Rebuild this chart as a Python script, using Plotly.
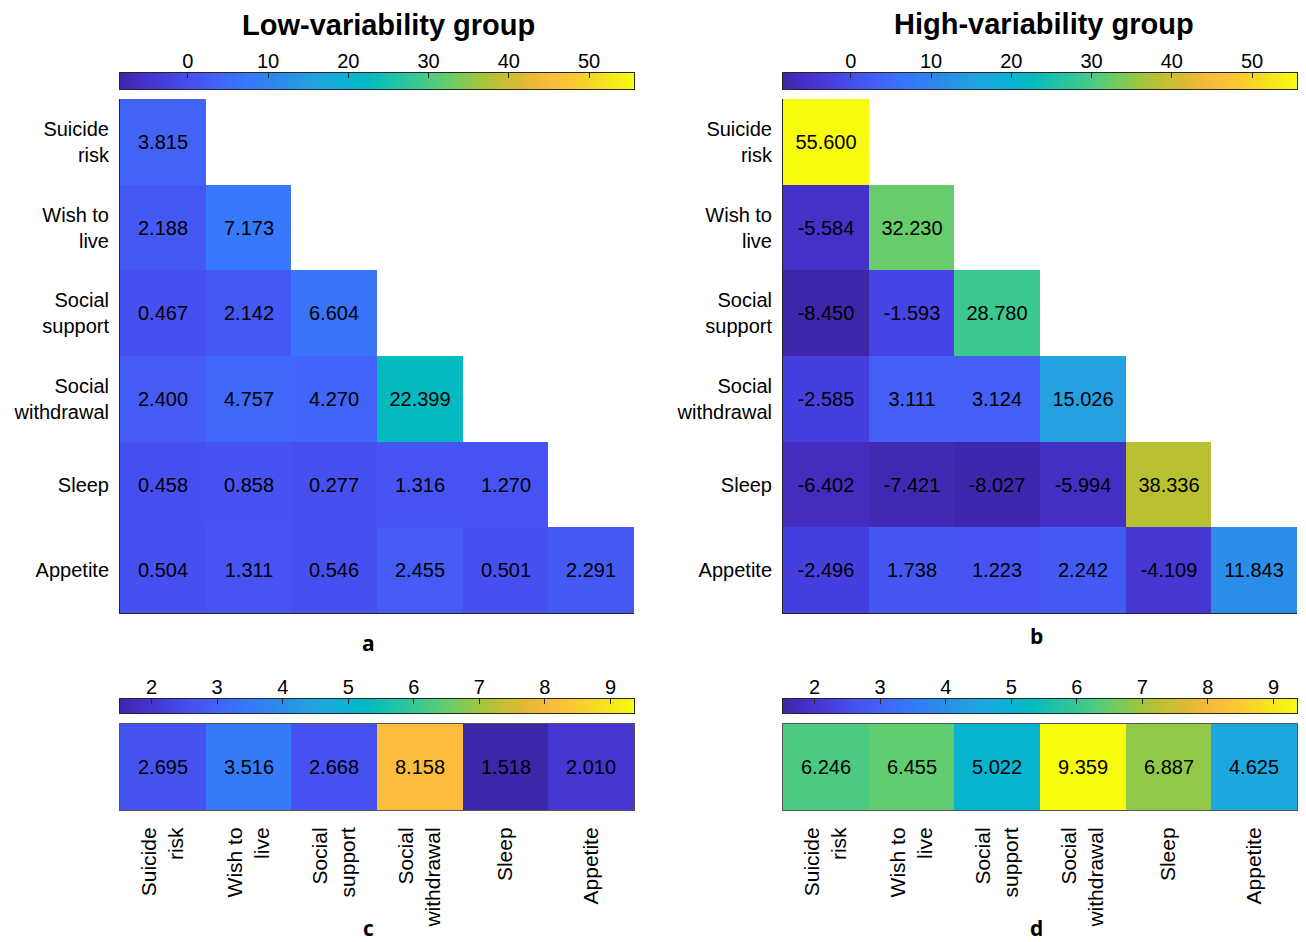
import numpy as np
import plotly.graph_objects as go

# Row/column variables (lower-triangular layout)
tick_text = ["Suicide<br>risk", "Wish to<br>live", "Social<br>support",
             "Social<br>withdrawal", "Sleep", "Appetite"]

# Lower-triangular matrices, row by row
low_var = [
    [3.815],
    [2.188, 7.173],
    [0.467, 2.142, 6.604],
    [2.400, 4.757, 4.270, 22.399],
    [0.458, 0.858, 0.277, 1.316, 1.270],
    [0.504, 1.311, 0.546, 2.455, 0.501, 2.291],
]
high_var = [
    [55.600],
    [-5.584, 32.230],
    [-8.450, -1.593, 28.780],
    [-2.585, 3.111, 3.124, 15.026],
    [-6.402, -7.421, -8.027, -5.994, 38.336],
    [-2.496, 1.738, 1.223, 2.242, -4.109, 11.843],
]

# Single-row values
low_row = [2.695, 3.516, 2.668, 8.158, 1.518, 2.010]
high_row = [6.246, 6.455, 5.022, 9.359, 6.887, 4.625]

top_ticks = [0, 10, 20, 30, 40, 50]
bottom_ticks = [2, 3, 4, 5, 6, 7, 8, 9]

# Parula-style colour map
parula = [
    [0.000, "rgb(62,38,168)"],
    [0.045, "rgb(69,48,200)"],
    [0.090, "rgb(70,62,222)"],
    [0.140, "rgb(70,80,240)"],
    [0.190, "rgb(67,98,247)"],
    [0.245, "rgb(55,120,252)"],
    [0.317, "rgb(42,142,232)"],
    [0.366, "rgb(37,160,225)"],
    [0.400, "rgb(26,169,222)"],
    [0.447, "rgb(6,180,208)"],
    [0.482, "rgb(3,186,192)"],
    [0.581, "rgb(60,200,145)"],
    [0.633, "rgb(100,204,110)"],
    [0.685, "rgb(145,200,72)"],
    [0.730, "rgb(185,192,50)"],
    [0.790, "rgb(228,186,52)"],
    [0.847, "rgb(252,188,60)"],
    [0.920, "rgb(245,215,40)"],
    [1.000, "rgb(249,251,14)"],
]

FONT = "Liberation Sans, Arial, sans-serif"
AX = "#262626"
W, H = 1306, 942


def fx(px):
    return px / W


def fy(py):
    return 1 - py / H


def full(rows):
    n = len(rows)
    z = [[(r[j] if j < len(r) else None) for j in range(n)] for r in rows]
    t = [[(f"{v:.3f}" if v is not None else "") for v in r] for r in z]
    return z, t


top_min = min(min(r) for r in low_var + high_var)
top_max = max(max(r) for r in low_var + high_var)
bot_min = min(low_row + high_row)
bot_max = max(low_row + high_row)

fig = go.Figure()

# Triangular heatmaps
for k, rows in enumerate([low_var, high_var], start=1):
    z, t = full(rows)
    sfx = "" if k == 1 else str(k)
    fig.add_trace(go.Heatmap(
        z=z, x=list(range(6)), y=list(range(6)), text=t,
        texttemplate="%{text}", textfont=dict(size=20, color="black", family=FONT),
        colorscale=parula, zmin=top_min, zmax=top_max, showscale=False,
        xaxis="x" + sfx, yaxis="y" + sfx, hoverinfo="skip"))

# Single-row heatmaps
for k, vals in zip([3, 4], [low_row, high_row]):
    fig.add_trace(go.Heatmap(
        z=[vals], x=list(range(6)), y=[0], text=[[f"{v:.3f}" for v in vals]],
        texttemplate="%{text}", textfont=dict(size=20, color="black", family=FONT),
        colorscale=parula, zmin=bot_min, zmax=bot_max, showscale=False,
        xaxis=f"x{k}", yaxis=f"y{k}", hoverinfo="skip"))

# Colour bars drawn as gradient strips on their own axes
N = 256
for k, (lo, hi) in zip([5, 6, 7, 8], [(top_min, top_max), (top_min, top_max),
                                      (bot_min, bot_max), (bot_min, bot_max)]):
    edges = np.linspace(lo, hi, N + 1)
    mids = (edges[:-1] + edges[1:]) / 2
    fig.add_trace(go.Heatmap(
        z=[mids], x=edges, y=[0, 1], colorscale=parula, zmin=lo, zmax=hi,
        showscale=False, xaxis=f"x{k}", yaxis=f"y{k}", hoverinfo="skip"))

xl = [fx(120), fx(634)]
xr = [fx(783), fx(1297)]
y_top = [fy(613), fy(99)]
y_cb_top = [fy(89), fy(73)]
y_cb_bot = [fy(713), fy(699)]
y_row = [fy(810), fy(724)]

tick_font = dict(size=20, color="black", family=FONT)

layout = dict(
    width=W, height=H, margin=dict(l=0, r=0, t=0, b=0),
    paper_bgcolor="white", plot_bgcolor="white", showlegend=False,
)

for k, dom in [(1, xl), (2, xr)]:
    sfx = "" if k == 1 else str(k)
    layout["xaxis" + sfx] = dict(domain=dom, anchor="y" + sfx, range=[-0.5, 5.5],
                                 showticklabels=False, ticks="", showgrid=False,
                                 zeroline=False, showline=True, linecolor=AX, linewidth=1)
    layout["yaxis" + sfx] = dict(domain=y_top, anchor="x" + sfx, range=[5.5, -0.5],
                                 tickvals=list(range(6)), ticktext=tick_text,
                                 tickfont=tick_font, ticks="", ticklabelstandoff=6,
                                 showgrid=False, zeroline=False, showline=True,
                                 linecolor=AX, linewidth=1)

for k, dom in [(3, xl), (4, xr)]:
    layout[f"xaxis{k}"] = dict(domain=dom, anchor=f"y{k}", range=[-0.5, 5.5],
                               tickvals=list(range(6)), ticktext=tick_text,
                               tickangle=-90, tickfont=dict(size=21, color="black", family=FONT),
                               ticks="", ticklabelstandoff=8, showgrid=False, zeroline=False,
                               showline=True, mirror=True, linecolor="#555", linewidth=1)
    layout[f"yaxis{k}"] = dict(domain=y_row, anchor=f"x{k}", range=[-0.5, 0.5],
                               showticklabels=False, ticks="", showgrid=False,
                               zeroline=False, showline=True, mirror=True,
                               linecolor="#555", linewidth=1)

for k, dom, ydom, lo, hi, tv in [
        (5, xl, y_cb_top, top_min, top_max, top_ticks),
        (6, xr, y_cb_top, top_min, top_max, top_ticks),
        (7, xl, y_cb_bot, bot_min, bot_max, bottom_ticks),
        (8, xr, y_cb_bot, bot_min, bot_max, bottom_ticks)]:
    layout[f"xaxis{k}"] = dict(domain=dom, anchor=f"y{k}", range=[lo, hi], side="top",
                               tickvals=tv, ticks="inside", ticklen=5, tickcolor=AX,
                               tickfont=tick_font, ticklabelstandoff=-4,
                               showgrid=False, zeroline=False, showline=True,
                               mirror=True, linecolor=AX, linewidth=1)
    layout[f"yaxis{k}"] = dict(domain=ydom, anchor=f"x{k}", range=[0, 1],
                               showticklabels=False, ticks="", showgrid=False,
                               zeroline=False, showline=True, mirror=True,
                               linecolor=AX, linewidth=1)

title_font = dict(size=29, color="black", family=FONT)
letter_font = dict(size=21, color="black", family="Open Sans, Liberation Sans, sans-serif")
annotations = [
    dict(text="<b>Low-variability group</b>", x=fx(388), y=fy(25), font=title_font),
    dict(text="<b>High-variability group</b>", x=fx(1044), y=fy(24), font=title_font),
    dict(text="<b>a</b>", x=fx(368), y=fy(643), font=letter_font),
    dict(text="<b>b</b>", x=fx(1036), y=fy(636), font=letter_font),
    dict(text="<b>c</b>", x=fx(368), y=fy(928), font=letter_font),
    dict(text="<b>d</b>", x=fx(1036), y=fy(928), font=letter_font),
]
for a in annotations:
    a.update(xref="paper", yref="paper", xanchor="center", yanchor="middle", showarrow=False)
layout["annotations"] = annotations

fig.update_layout(**layout)
fig.write_html("out.html")
